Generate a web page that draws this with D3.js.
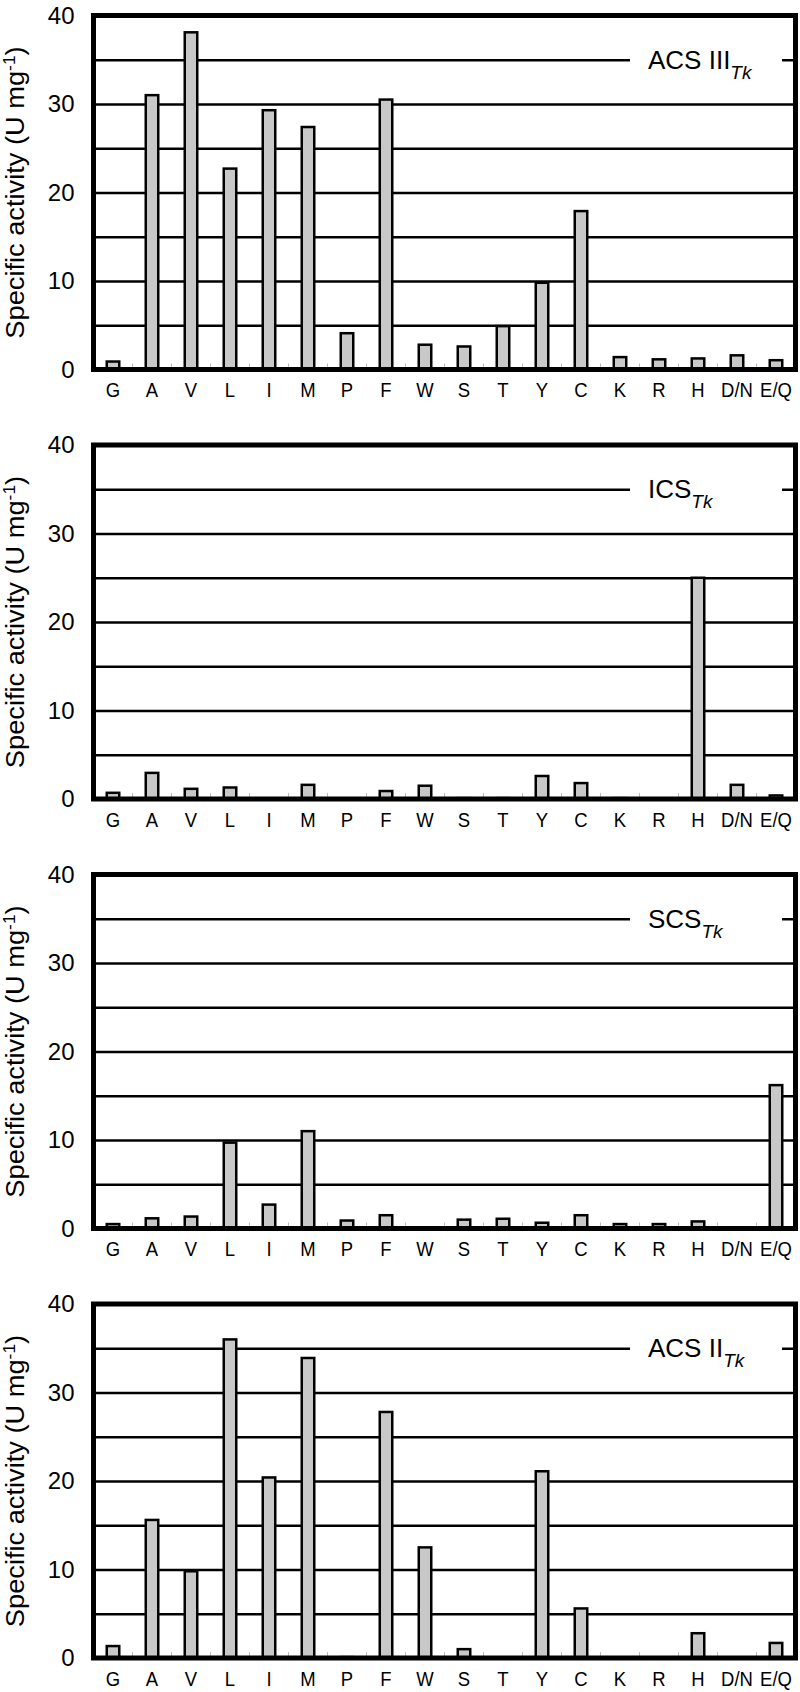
<!DOCTYPE html>
<html lang="en">
<head>
    <meta charset="UTF-8">
    <title>Specific activity</title>
    <script src="https://d3js.org/d3.v7.min.js"></script>
    <style>
        body { margin: 0; background: #fff; }
        text { font-family: "Liberation Sans", Arial, sans-serif; fill: #000; }
        .x-axis .domain, .y-axis .domain { stroke: none; }
        .gridlines line { stroke: #000; stroke-width: 2.5; }
        .gridlines .domain { stroke: none; }
    </style>
</head>
<body>
<script>
    const aminoAcids = ["G", "A", "V", "L", "I", "M", "P", "F", "W", "S", "T", "Y", "C", "K", "R", "H", "D/N", "E/Q"];

    const acs3Values = [0.9, 31.0, 38.1, 22.7, 29.3, 27.4, 4.1, 30.5, 2.8, 2.6, 4.9, 9.8, 17.9, 1.4, 1.15, 1.25, 1.6, 1.05];
    const icsValues  = [0.7, 2.95, 1.15, 1.3, 0, 1.6, 0, 0.9, 1.5, 0.1, 0.1, 2.6, 1.8, 0.1, 0, 25.0, 1.6, 0.4];
    const scsValues  = [0.5, 1.15, 1.35, 9.7, 2.7, 11.0, 0.9, 1.5, 0, 1.0, 1.1, 0.65, 1.5, 0.5, 0.5, 0.8, 0, 16.2];
    const acs2Values = [1.35, 15.6, 9.8, 36.0, 20.4, 33.9, 0.1, 27.8, 12.5, 1.0, 0, 21.1, 5.6, 0, 0, 2.8, 0, 1.7];

    const enzymeNames = ["ACS III", "ICS", "SCS", "ACS II"];
    const enzymeSubscript = "Tk";
    const yTicks = [0, 10, 20, 30, 40];
    const gridValues = [5, 10, 15, 20, 25, 30, 35];

    const panels = [acs3Values, icsValues, scsValues, acs2Values].map((vals, i) => ({
        name: enzymeNames[i],
        values: aminoAcids.map((aa, j) => ({aa: aa, v: vals[j]}))
    }));

    const svgWidth = 800;
    const svgHeight = 1692;
    const left = 93.5, right = 795.5;
    const panelTop = 15.5, panelStep = 429.5, panelHeight = 354;

    const svg = d3.select("body").append("svg")
        .attr("width", svgWidth)
        .attr("height", svgHeight);

    const xScale = d3.scaleBand()
        .domain(aminoAcids)
        .range([0, right - left])
        .paddingInner(0)
        .paddingOuter(0);

    const yScale = d3.scaleLinear()
        .domain([0, 40])
        .range([panelHeight, 0]);

    const barWidth = 12.5;

    panels.forEach((p, i) => {
        const g = svg.append("g")
            .attr("transform", `translate(${left},${panelTop + i * panelStep})`);

        // gridlines
        g.append("g")
            .attr("class", "gridlines")
            .call(d3.axisLeft(yScale).tickValues(gridValues).tickSize(-(right - left)).tickFormat(""));

        // gap in the 35 line for the enzyme name
        g.append("rect")
            .attr("x", 630 - left)
            .attr("y", yScale(35) - 3)
            .attr("width", 782 - 630)
            .attr("height", 6)
            .attr("fill", "#fff");

        const label = g.append("text")
            .attr("x", 648 - left)
            .attr("y", yScale(35) + 9)
            .attr("font-size", 26);
        label.append("tspan").text(p.name);
        label.append("tspan")
            .attr("dy", 10)
            .attr("font-size", 19)
            .attr("font-style", "italic")
            .text(enzymeSubscript);

        // small ticks between categories
        g.append("g")
            .selectAll("line")
            .data(aminoAcids.slice(1))
            .enter()
            .append("line")
            .attr("x1", d => xScale(d))
            .attr("x2", d => xScale(d))
            .attr("y1", panelHeight)
            .attr("y2", panelHeight - 6)
            .attr("stroke", "#bbb")
            .attr("stroke-width", 1);

        // bars
        g.selectAll("rect.bar")
            .data(p.values)
            .enter()
            .append("rect")
            .attr("class", "bar")
            .attr("x", d => xScale(d.aa) + xScale.bandwidth() / 2 - barWidth / 2)
            .attr("y", d => yScale(d.v))
            .attr("width", barWidth)
            .attr("height", d => panelHeight - yScale(d.v))
            .attr("fill", "#c8c8c8")
            .attr("stroke", "#000")
            .attr("stroke-width", 2.5);

        // frame
        g.append("rect")
            .attr("x", 0)
            .attr("y", 0)
            .attr("width", right - left)
            .attr("height", panelHeight)
            .attr("fill", "none")
            .attr("stroke", "#000")
            .attr("stroke-width", 5);

        // y axis
        g.append("g")
            .attr("class", "y-axis")
            .call(d3.axisLeft(yScale).tickValues(yTicks).tickSize(0).tickPadding(19))
            .selectAll("text")
            .attr("font-size", 24)
            .attr("font-family", null);

        // x axis (labels a bit condensed like the original)
        g.append("g")
            .attr("class", "x-axis")
            .attr("transform", `translate(0,${panelHeight})`)
            .call(d3.axisBottom(xScale).tickSize(0).tickPadding(13))
            .selectAll("text")
            .attr("font-size", 21)
            .attr("font-family", null)
            .attr("transform", "scale(0.88,1)");

        // y title, stretched along its length
        const title = g.append("text")
            .attr("transform", `translate(${24 - left},${panelHeight / 2}) rotate(-90) scale(1.09,1)`)
            .attr("text-anchor", "middle")
            .attr("font-size", 25);
        title.append("tspan").text("Specific activity (U mg");
        title.append("tspan").attr("dy", -9).attr("font-size", 16).text("-1");
        title.append("tspan").attr("dy", 9).text(")");
    });
</script>
</body>
</html>
